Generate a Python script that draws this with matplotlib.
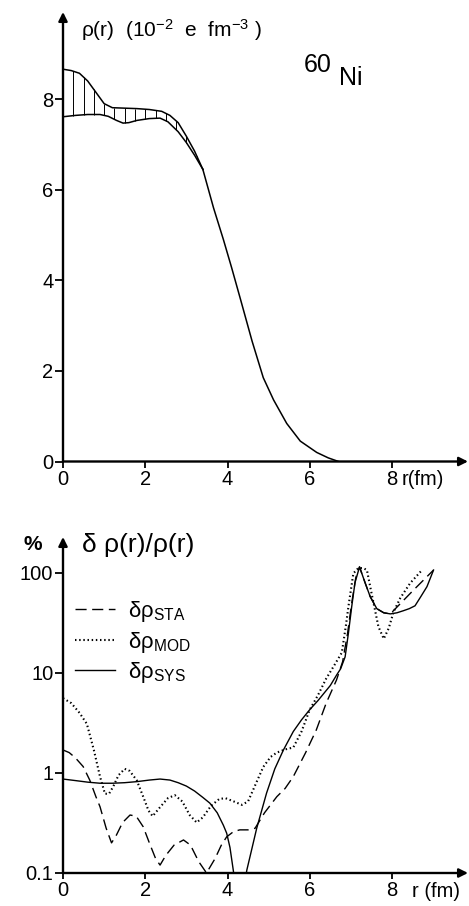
import numpy as np
import matplotlib
matplotlib.use("Agg")
import matplotlib.pyplot as plt
from matplotlib.ticker import FixedLocator, FixedFormatter, NullLocator

plt.rcParams['font.family'] = ['Liberation Sans', 'DejaVu Sans']
plt.rcParams['mathtext.fontset'] = 'custom'
plt.rcParams['mathtext.rm'] = 'Liberation Sans'
plt.rcParams['mathtext.it'] = 'Liberation Sans:italic'
plt.rcParams['mathtext.bf'] = 'Liberation Sans:bold'

# ============================================================
# Data
# ============================================================
# top panel: charge density band (upper / lower envelope) and common tail
r_upper = [0.0, 0.2, 0.4, 0.6, 0.8, 1.0, 1.2, 1.5, 1.8, 2.1, 2.4, 2.6, 2.8, 3.0, 3.2, 3.4]
rho_upper = [8.66, 8.63, 8.57, 8.40, 8.15, 7.90, 7.81, 7.80, 7.79, 7.77, 7.73, 7.64, 7.48, 7.18, 6.85, 6.45]

r_lower = [0.0, 0.3, 0.6, 0.9, 1.1, 1.3, 1.46, 1.6, 1.8, 2.1, 2.36, 2.55, 2.8, 3.0, 3.2, 3.4]
rho_lower = [7.61, 7.64, 7.66, 7.66, 7.62, 7.53, 7.47, 7.48, 7.53, 7.57, 7.58, 7.50, 7.28, 7.04, 6.76, 6.45]

r_tail = [3.4, 3.66, 3.9, 4.1, 4.31, 4.6, 4.87, 5.12, 5.44, 5.77, 6.17, 6.45, 6.7]
rho_tail = [6.45, 5.6, 4.9, 4.28, 3.6, 2.65, 1.85, 1.36, 0.84, 0.45, 0.2, 0.08, 0.0]

# bottom panel: relative errors in %
r_sta = [0.0, 0.15, 0.3, 0.49, 0.65, 0.8, 0.9, 1.05, 1.18, 1.3, 1.45, 1.63, 1.78, 1.95,
         2.1, 2.25, 2.36, 2.5, 2.7, 2.93, 3.1, 3.3, 3.49, 3.7, 3.85, 3.98, 4.15, 4.3,
         4.5, 4.67, 4.9, 5.2, 5.4, 5.6, 5.9, 6.16, 6.4, 6.65, 6.8, 6.92, 7.02, 7.12,
         7.21, 7.35, 7.47, 7.63, 7.8, 7.96, 8.5, 9.01]
err_sta = [1.70, 1.6, 1.42, 1.16, 0.85, 0.58, 0.46, 0.28, 0.20, 0.24, 0.32, 0.38, 0.37, 0.29,
           0.20, 0.14, 0.12, 0.15, 0.19, 0.214, 0.19, 0.13, 0.10, 0.14, 0.19, 0.23, 0.26, 0.27,
           0.27, 0.28, 0.40, 0.58, 0.70, 0.92, 1.6, 2.7, 5.0, 8.5, 13, 25, 50, 90,
           115, 79, 58, 44, 40, 39, 66, 107]

r_mod = [0.0, 0.2, 0.4, 0.58, 0.75, 0.9, 1.02, 1.12, 1.22, 1.35, 1.5, 1.62, 1.79, 1.95,
         2.08, 2.18, 2.35, 2.55, 2.72, 2.9, 3.08, 3.25, 3.4, 3.6, 3.8, 3.95, 4.15, 4.35,
         4.5, 4.7, 4.87, 5.05, 5.2, 5.4, 5.6, 5.8, 6.0, 6.2, 6.4, 6.6, 6.78, 6.88, 6.94,
         7.06, 7.18, 7.3, 7.39, 7.47, 7.57, 7.67, 7.8, 7.92, 8.04, 8.2, 8.44, 8.73]
err_mod = [5.6, 5.0, 4.0, 3.1, 1.7, 0.92, 0.62, 0.62, 0.73, 0.95, 1.10, 1.05, 0.85, 0.58,
           0.42, 0.37, 0.45, 0.56, 0.60, 0.52, 0.38, 0.32, 0.36, 0.47, 0.55, 0.56, 0.52, 0.48,
           0.52, 0.80, 1.15, 1.45, 1.60, 1.72, 1.80, 2.6, 4.3, 6.0, 8.8, 12, 16, 30, 46,
           99, 112, 112, 107, 73, 46, 29, 22, 28, 41, 56, 79, 107]

r_sys = [0.0, 0.3, 0.6, 0.9, 1.2, 1.5, 1.8, 2.1, 2.36, 2.6, 2.8, 3.0, 3.2, 3.4, 3.57,
         3.75, 3.9, 3.98, 4.06, 4.14, 4.2, 4.4, 4.47, 4.6, 4.71, 4.83, 4.95, 5.15, 5.36,
         5.6, 5.8, 6.0, 6.2, 6.5, 6.65, 6.75, 6.86, 6.94, 7.02, 7.1, 7.21, 7.35, 7.47,
         7.63, 7.8, 7.96, 8.12, 8.28, 8.42, 8.56, 8.7, 8.85, 9.01]
err_sys = [0.87, 0.84, 0.81, 0.79, 0.79, 0.80, 0.82, 0.85, 0.87, 0.85, 0.80, 0.74, 0.66, 0.57, 0.50,
           0.40, 0.30, 0.25, 0.18, 0.107, 0.07, 0.07, 0.107, 0.18, 0.28, 0.42, 0.63, 1.1, 1.70,
           2.6, 3.4, 4.3, 5.3, 7.5, 9.5, 11, 14.5, 25, 46, 80, 115, 79, 58,
           44, 40, 39, 40, 42, 44, 47, 58, 73, 107]

x_ticks = [0, 2, 4, 6, 8]
top_yticks = [0, 2, 4, 6, 8]
bot_yticks = [0.1, 1, 10, 100]
bot_ylabels = ["0.1", "1", "10", "100"]

W, H = 469, 906


def px(x, y):
    return x / W, 1 - y / H


# ============================================================
# Figure
# ============================================================
fig = plt.figure(figsize=(W / 100, H / 100), dpi=100)

x0, x1 = 63, 468
xscale = 41.125
ax1 = fig.add_axes([x0 / W, (H - 461.5) / H, (x1 - x0) / W, (461.5 - 12) / H])
ax2 = fig.add_axes([x0 / W, (H - 873) / H, (x1 - x0) / W, (873 - 537) / H])

for ax in (ax1, ax2):
    ax.set_xlim(0, (x1 - x0) / xscale)
    for s in ax.spines.values():
        s.set_visible(False)
    ax.set_xticks(x_ticks)
    ax.tick_params(axis='both', direction='out', width=1.3, colors='k', labelsize=14.5)
    ax.tick_params(axis='x', length=4, pad=2)
    ax.tick_params(axis='y', length=6, pad=1)
    ax.annotate('', xy=(1, 0), xytext=(0, 0), xycoords='axes fraction',
                arrowprops=dict(arrowstyle='-|>', lw=1.7, color='k',
                                mutation_scale=13, shrinkA=0, shrinkB=0))
    ax.annotate('', xy=(0, 1), xytext=(0, 0), xycoords='axes fraction',
                arrowprops=dict(arrowstyle='-|>', lw=1.7, color='k',
                                mutation_scale=13, shrinkA=0, shrinkB=0))

# ---- top panel
ax1.set_ylim(0, (461.5 - 12) / 45.3)
ax1.set_yticks(top_yticks)
ax1.plot(r_upper, rho_upper, color='k', lw=1.1)
ax1.plot(r_lower, rho_lower, color='k', lw=1.1)
ax1.plot(r_tail, rho_tail, color='k', lw=1.1)
hatch_r = np.arange(0.25, 3.3, 0.25)
ax1.vlines(hatch_r, np.interp(hatch_r, r_lower, rho_lower),
           np.interp(hatch_r, r_upper, rho_upper), color='k', lw=0.7)

fig.text(*px(81, 37), 'ρ(r)  (10$^{-2}$  e  fm$^{-3}$ )', fontsize=15, va='baseline', ha='left')
fig.text(*px(304, 72), '60', fontsize=18, va='baseline', ha='left')
fig.text(*px(339, 85), 'Ni', fontsize=18, va='baseline', ha='left')
fig.text(*px(402, 470), 'r(fm)', fontsize=14.5, va='top', ha='left')

# ---- bottom panel
ax2.set_yscale('log')
ax2.set_ylim(0.1, 0.1 * 10 ** ((873 - 537) / 100))
ax2.yaxis.set_major_locator(FixedLocator(bot_yticks))
ax2.yaxis.set_major_formatter(FixedFormatter(bot_ylabels))
ax2.yaxis.set_minor_locator(NullLocator())

ax2.plot(r_sta, err_sta, color='k', lw=1.0, dashes=(8, 4),
         label=r'δρ$_{\mathrm{STA}}$')
ax2.plot(r_mod, err_mod, color='k', lw=1.5, linestyle=(0, (0.7, 1.3)),
         label=r'δρ$_{\mathrm{MOD}}$')
ax2.plot(r_sys, err_sys, color='k', lw=1.0, label=r'δρ$_{\mathrm{SYS}}$')

ax2.legend(loc='upper left', bbox_to_anchor=(0.03, 0.815), frameon=False,
           fontsize=16, handlelength=1.8, handletextpad=0.6, labelspacing=0.25,
           borderaxespad=0, borderpad=0)

fig.text(*px(23, 545), '%', fontsize=15, va='center', ha='left', fontweight='bold')
fig.text(*px(82, 545), 'δ ρ(r)/ρ(r)', fontsize=19, va='center', ha='left')
fig.text(*px(412, 882), 'r (fm)', fontsize=14.5, va='top', ha='left')

fig.savefig('out.png', dpi=100)
